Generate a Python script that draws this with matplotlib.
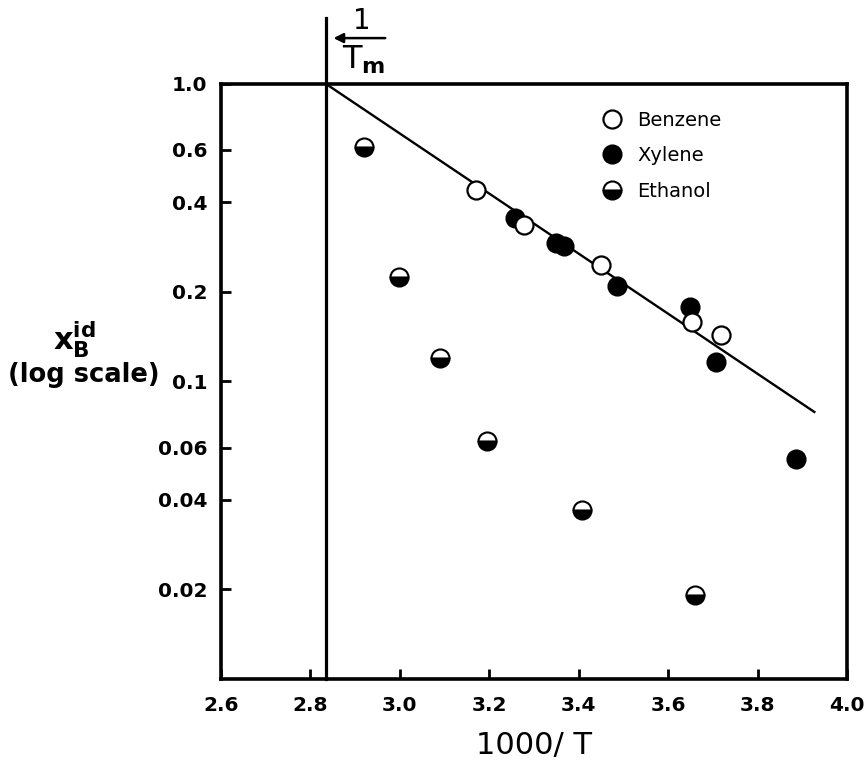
import numpy as np
import matplotlib.pyplot as plt

# data
benzene_x = [3.170, 3.277, 3.449, 3.654, 3.719]
benzene_y = [0.440, 0.336, 0.246, 0.158, 0.143]

xylene_x = [3.258, 3.350, 3.366, 3.486, 3.648, 3.706, 3.885]
xylene_y = [0.355, 0.292, 0.285, 0.210, 0.178, 0.116, 0.055]

ethanol_x = [2.919, 2.999, 3.089, 3.195, 3.408, 3.661]
ethanol_y = [0.614, 0.224, 0.120, 0.0632, 0.0369, 0.0191]

# ideal solubility line and 1/Tm
fit_x = [2.835, 3.927]
fit_y = [1.0, 0.079]
inv_tm = 2.835

xticks = [2.6, 2.8, 3.0, 3.2, 3.4, 3.6, 3.8, 4.0]
yticks = [1.0, 0.6, 0.4, 0.2, 0.1, 0.06, 0.04, 0.02]
ytick_labels = ['1.0', '0.6', '0.4', '0.2', '0.1', '0.06', '0.04', '0.02']

fig = plt.figure(figsize=(8.68, 7.62), dpi=100)
ax = fig.add_axes([0.2546, 0.1089, 0.7212, 0.7809])

ax.set_yscale('log')
ax.set_xlim(2.6, 4.0)
ax.set_ylim(0.01, 1.0)

# 1/Tm vertical line, runs above the frame
ax.plot([inv_tm, inv_tm], [0.01, 1.66], color='black', lw=2.3, clip_on=False, zorder=3)
ax.plot(fit_x, fit_y, color='black', lw=1.7, zorder=2)

ax.plot(xylene_x, xylene_y, 'o', ms=13, color='black', mec='black', mew=1.5,
        label='Xylene', zorder=4)
ax.plot(benzene_x, benzene_y, 'o', ms=13, mfc='white', mec='black', mew=1.6,
        label='Benzene', zorder=5)
ax.plot(ethanol_x, ethanol_y, 'o', ms=13, fillstyle='bottom', mfc='black',
        markerfacecoloralt='white', mec='black', mew=1.5, label='Ethanol', zorder=5)

h, l = ax.get_legend_handles_labels()
order = [1, 0, 2]
ax.legend([h[i] for i in order], [l[i] for i in order], loc='upper left',
          bbox_to_anchor=(0.609, 0.955), frameon=False, fontsize=14,
          handlelength=1.0, handletextpad=0.8, labelspacing=0.85, borderpad=0,
          borderaxespad=0)

ax.set_xticks(xticks)
ax.set_xticklabels(['%.1f' % v for v in xticks], fontweight='bold')
ax.set_yticks(yticks)
ax.set_yticklabels(ytick_labels, fontweight='bold')
ax.yaxis.set_minor_locator(plt.NullLocator())
ax.tick_params(direction='in', length=7, width=2, labelsize=14.5)
ax.tick_params(axis='x', pad=12)
ax.tick_params(axis='y', pad=10)
for s in ax.spines.values():
    s.set_linewidth(2.6)

ax.set_xlabel('1000/ T', fontsize=22, labelpad=12)

fig.text(0.086, 0.554, r'$\mathbf{x}_\mathbf{B}^\mathbf{id}$', fontsize=22,
         ha='center', va='center')
fig.text(0.096, 0.508, '(log scale)', fontsize=18.5, fontweight='bold',
         ha='center', va='center')

# 1/Tm label with arrow
fig.text(0.417, 0.972, '1', fontsize=20, ha='center', va='center')
fig.text(0.419, 0.922, r'$\mathrm{T}_\mathbf{m}$', fontsize=23, ha='center', va='center')
fig.patches.append(plt.matplotlib.patches.FancyArrowPatch(
    (0.447, 0.950), (0.381, 0.950), transform=fig.transFigure,
    arrowstyle='-|>', mutation_scale=14, lw=1.8, color='black'))

fig.savefig('out.png', dpi=100)
